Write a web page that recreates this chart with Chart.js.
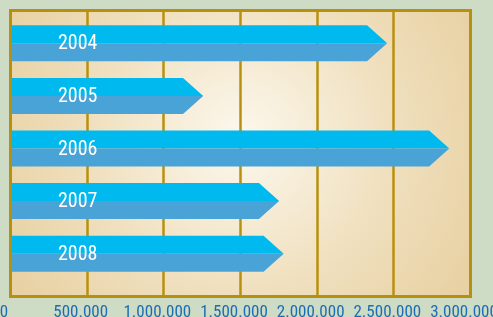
<!DOCTYPE html>
<html>
<head>
<meta charset="utf-8">
<script src="https://cdn.jsdelivr.net/npm/chart.js@4/dist/chart.umd.min.js"></script>
<style>
    html, body { margin: 0; padding: 0; background: #cedbc5; overflow: hidden; }
    #chart { display: block; }
</style>
</head>
<body>
<canvas id="chart" width="493" height="317"></canvas>
<script>
// Data
const years = ['2004', '2005', '2006', '2007', '2008'];
const amounts = [2460000, 1260000, 2865000, 1755000, 1785000];
const xTickLabels = ['0', '500.000', '1.000.000', '1.500.000', '2.000.000', '2.500.000', '3.000.000'];

const narrow = "'Liberation Sans Narrow', 'Arial Narrow', 'Roboto Condensed', sans-serif";

// Plot background, grid lines and frame (frame extends a bit beyond the bar band)
const panelPlugin = {
    id: 'panel',
    beforeDatasetsDraw(chart) {
        const { ctx, chartArea, scales } = chart;
        const top = chartArea.top - 7, bottom = chartArea.bottom + 16;
        const left = chartArea.left, right = chartArea.right;
        ctx.save();
        const g = ctx.createRadialGradient(240, 140, 0, 240, 140, 270);
        g.addColorStop(0, '#fcf8ee');
        g.addColorStop(0.55, '#f0e0bf');
        g.addColorStop(1, '#e8d1a2');
        ctx.fillStyle = g;
        ctx.fillRect(left, top, right - left, bottom - top);
        ctx.strokeStyle = '#b8900f';
        ctx.lineWidth = 2.5;
        scales.x.ticks.forEach(t => {
            const x = Math.round(scales.x.getPixelForValue(t.value)) + 0.5;
            ctx.beginPath();
            ctx.moveTo(x, top);
            ctx.lineTo(x, bottom);
            ctx.stroke();
        });
        ctx.restore();
    },
    afterDatasetsDraw(chart) {
        const { ctx, chartArea } = chart;
        const top = chartArea.top - 7, bottom = chartArea.bottom + 16;
        ctx.save();
        ctx.strokeStyle = '#b8900f';
        ctx.lineWidth = 3;
        ctx.strokeRect(chartArea.left + 0.5, top + 0.5, chartArea.right - chartArea.left, bottom - top);
        ctx.restore();
    }
};

// Arrow-shaped two-tone bars with the year written inside
const arrowPlugin = {
    id: 'arrows',
    beforeDatasetsDraw(chart) {
        const { ctx } = chart;
        const meta = chart.getDatasetMeta(0);
        ctx.save();
        meta.data.forEach((bar, i) => {
            const h = bar.height;
            const top = bar.y - h / 2, bottom = bar.y + h / 2;
            const tip = bar.x, shoulder = bar.x - h * 0.56;
            const start = bar.base;
            // upper half
            ctx.fillStyle = '#00b9ee';
            ctx.beginPath();
            ctx.moveTo(start, top);
            ctx.lineTo(shoulder, top);
            ctx.lineTo(tip, bar.y);
            ctx.lineTo(start, bar.y);
            ctx.closePath();
            ctx.fill();
            // lower half
            ctx.fillStyle = '#4aa3d6';
            ctx.beginPath();
            ctx.moveTo(start, bar.y);
            ctx.lineTo(tip, bar.y);
            ctx.lineTo(shoulder, bottom);
            ctx.lineTo(start, bottom);
            ctx.closePath();
            ctx.fill();
            // year label
            ctx.fillStyle = '#ffffff';
            ctx.font = '20px ' + narrow;
            ctx.textBaseline = 'middle';
            ctx.textAlign = 'left';
            ctx.fillText(years[i], start + 48, bar.y + 1);
        });
        ctx.restore();
    }
};

new Chart(document.getElementById('chart').getContext('2d'), {
    type: 'bar',
    data: {
        labels: years,
        datasets: [{
            data: amounts,
            backgroundColor: 'rgba(0,0,0,0)',
            borderWidth: 0,
            barThickness: 36
        }]
    },
    options: {
        indexAxis: 'y',
        responsive: false,
        animation: false,
        layout: { padding: { top: 17, left: 10, right: 23, bottom: 0 } },
        plugins: {
            legend: { display: false },
            tooltip: { enabled: false }
        },
        scales: {
            x: {
                type: 'linear',
                min: 0,
                max: 3000000,
                grid: { display: false, drawTicks: false },
                border: { display: false },
                ticks: {
                    stepSize: 500000,
                    maxRotation: 0,
                    autoSkip: false,
                    padding: 23,
                    labelOffset: -6,
                    color: '#1b6db3',
                    font: { family: narrow, size: 17 },
                    callback: (value, index) => xTickLabels[index]
                },
                afterFit(scale) {
                    scale.height = 37;
                    scale.paddingLeft = 0;
                    scale.paddingRight = 0;
                }
            },
            y: {
                display: false
            }
        }
    },
    plugins: [panelPlugin, arrowPlugin]
});
</script>
</body>
</html>
